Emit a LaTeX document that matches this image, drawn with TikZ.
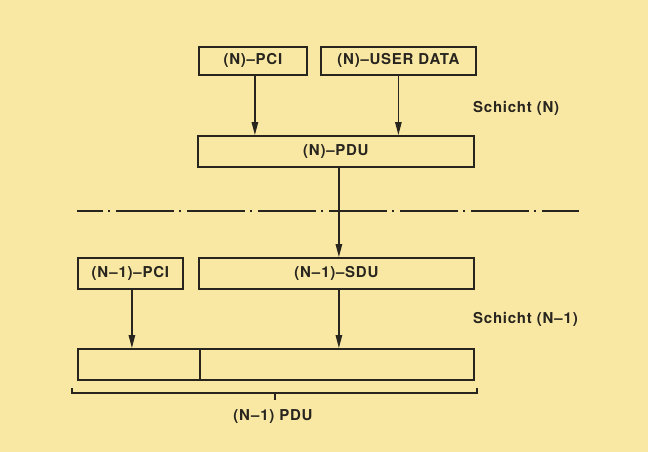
\documentclass[tikz,border=0pt]{standalone}
\usepackage{fontspec}
\setmainfont{TeX Gyre Heros}
\newfontfamily\lblfont[LetterSpace=5]{TeX Gyre Heros}
\usetikzlibrary{arrows.meta}
\definecolor{paper}{RGB}{249,232,164}
\definecolor{ink}{RGB}{40,36,30}
\newcommand{\nmo}{N\kern1pt–\kern1pt1}
\tikzset{
  box/.style={draw=ink, line width=1.8pt, rectangle, inner sep=0pt, anchor=north west,
     font=\lblfont\bfseries\fontsize{15}{17}\selectfont, text=ink},
  arr/.style={draw=ink, line width=1.2pt, -{Triangle[length=13pt,width=6.5pt]}},
  lbl/.style={font=\lblfont\bfseries\fontsize{15}{17}\selectfont, text=ink, inner sep=0pt},
}
\begin{document}
\begin{tikzpicture}[x=1pt,y=-1pt]
\fill[paper] (0,0) rectangle (648,452);
\useasboundingbox (0,0) rectangle (648,452);
% layer N
\node[box, minimum width=108pt, minimum height=28pt] (npci) at (198,46) {(N)–PCI};
\node[box, minimum width=155pt, minimum height=28pt] (nud) at (320,46) {(N)–USER DATA};
\node[box, minimum width=276pt, minimum height=31pt] (npdu) at (197,135) {(N)–PDU};
\draw[arr] ([xshift=2pt]npci.south) -- ([xshift=2pt]npci.south |- npdu.north);
\draw[arr] (nud.south) -- (nud.south |- npdu.north);
\node[lbl, anchor=west] (sn) at (473,108) {Schicht (N)};
% separator
\coordinate (sepA) at (77,211);
\coordinate (sepB) at (579,211);
\draw[ink, line width=1.4pt, dash pattern=on 58pt off 5pt on 2pt off 6pt, dash phase=32pt] (sepA) -- (sepB);
% layer N-1
\node[box, minimum width=105pt, minimum height=31pt] (mpci) at (77,257) {(\nmo)–PCI};
\node[box, minimum width=275pt, minimum height=31pt] (msdu) at (198,257) {(\nmo)–SDU};
\draw[arr] ([xshift=3pt]npdu.south) -- ([xshift=3pt]npdu.south |- msdu.north);
\node[lbl, anchor=west] (sm) at (473,319) {Schicht (\nmo)};
\node[box, minimum width=122pt, minimum height=31pt] (b1) at (77,348) {};
\node[box, minimum width=274pt, minimum height=31pt] (b2) at (199,348) {};
\draw[arr] ([xshift=1.5pt]mpci.south) -- ([xshift=1.5pt]mpci.south |- b1.north);
\draw[arr] ([xshift=2.5pt]msdu.south) -- ([xshift=2.5pt]msdu.south |- b2.north);
% brace
\coordinate (brL) at (72,388);
\coordinate (brR) at (477,388);
\coordinate (brM) at (275,393);
\draw[ink, line width=1.1pt] (brL) -- (72,393) -- (477,393) -- (brR);
\draw[ink, line width=1.4pt] (brM) -- (275,400);
\node[lbl] (pdu) at (273,417) {(\nmo) PDU};
\end{tikzpicture}
\end{document}
